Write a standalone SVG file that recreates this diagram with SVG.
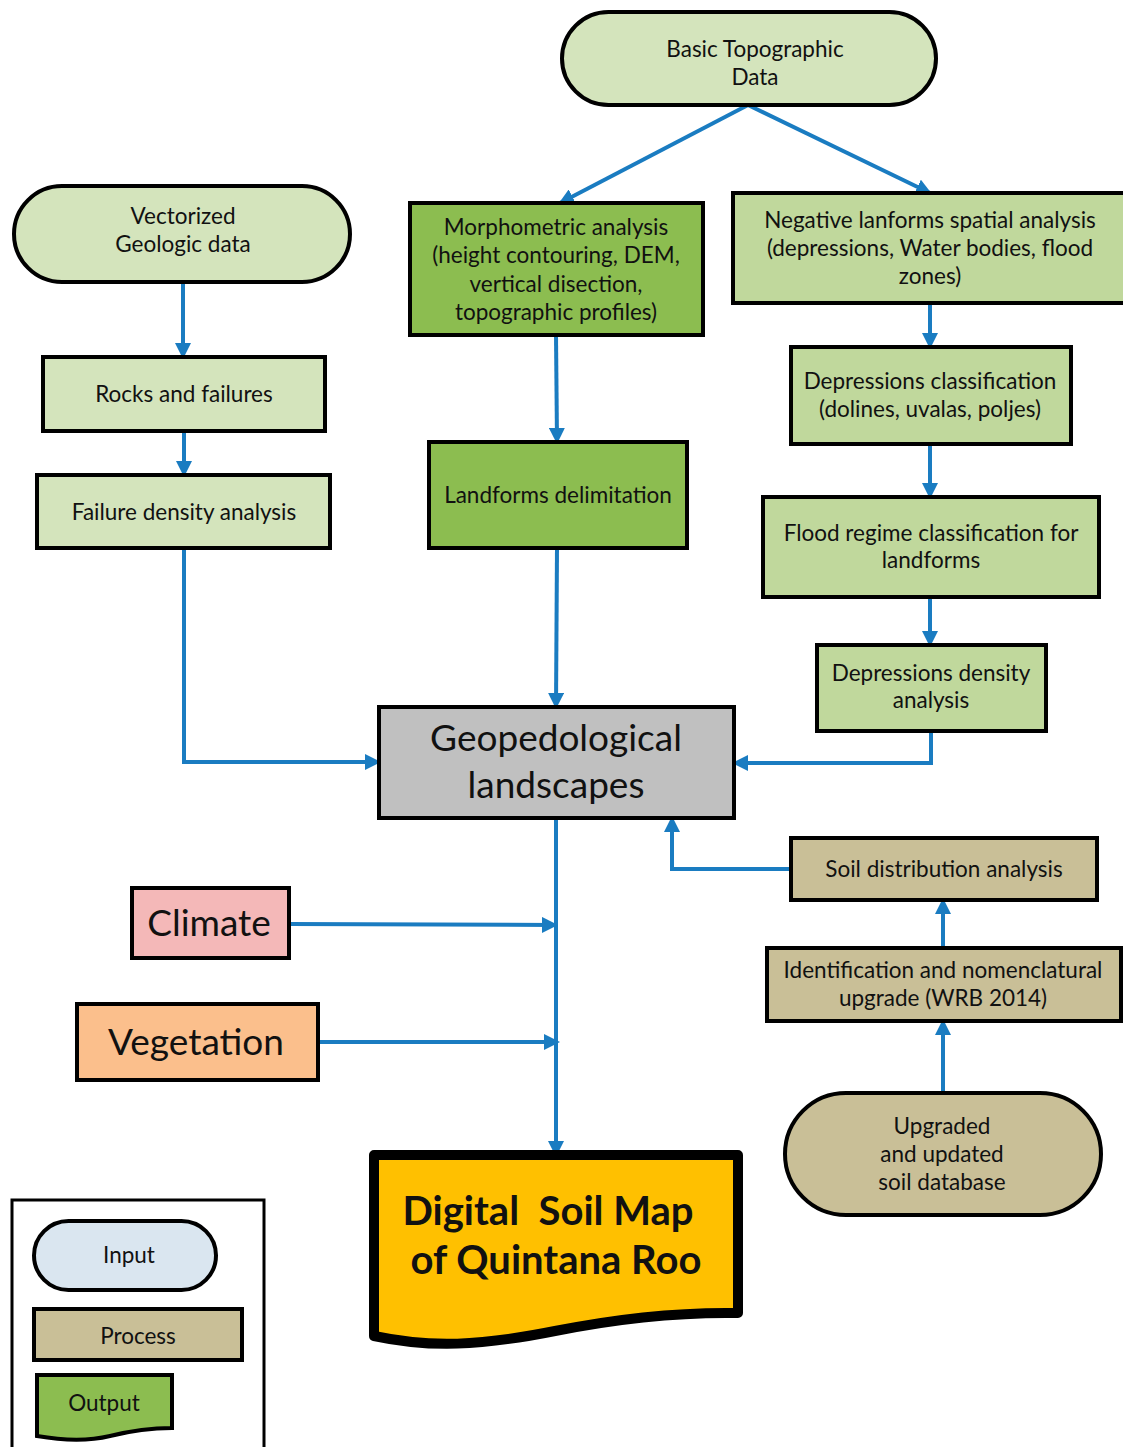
<svg xmlns="http://www.w3.org/2000/svg" width="1123" height="1447" viewBox="0 0 1123 1447">
<defs>
<marker id="ah" markerUnits="userSpaceOnUse" markerWidth="16" markerHeight="16" viewBox="0 0 16 16" refX="14" refY="8" orient="auto">
<path d="M0,0 L16,8 L0,16 Z" fill="#1a7cc1"/>
</marker>
<style>
.n{stroke:#000;stroke-width:4}
.lg{fill:#d4e4bc}
.mg{fill:#c0d89c}
.dg{fill:#8cbd50}
.tan{fill:#c9bf97}
.t{font-family:Lato,"Open Sans","Liberation Sans",sans-serif;font-size:22.5px;fill:#111;text-anchor:middle}
.big{font-size:37px}
.dsm{font-size:40px;font-weight:bold}
.c{fill:none;stroke:#1a7cc1;stroke-width:4;marker-end:url(#ah)}
</style>
</defs>
<rect width="1123" height="1447" fill="#fff"/>

<g id="connectors">
<path class="c" d="M748,105 L560,203"/>
<path class="c" d="M748,105 L930,193"/>
<path class="c" d="M183,282 L183,357"/>
<path class="c" d="M184,431 L184,475"/>
<path class="c" d="M184,548 L184,762 L379,762"/>
<path class="c" d="M556,335 L557,442"/>
<path class="c" d="M557,548 L556,707"/>
<path class="c" d="M930,303 L930,347"/>
<path class="c" d="M930,444 L930,497"/>
<path class="c" d="M930,597 L930,645"/>
<path class="c" d="M931,731 L931,763 L734,763"/>
<path class="c" d="M791,869 L672,869 L672,818"/>
<path class="c" d="M943,948 L943,900"/>
<path class="c" d="M943,1093 L943,1021"/>
<path class="c" d="M556,818 L556,1155"/>
<path class="c" d="M289,924 L556,925"/>
<path class="c" d="M318,1042 L558,1042"/>
</g>

<g id="basic-topographic">
<rect class="n lg" x="562" y="12" width="374" height="93" rx="46.5"/>
<text class="t" x="755" y="57">Basic Topographic</text>
<text class="t" x="755" y="85">Data</text>
</g>

<g id="vectorized-geologic">
<rect class="n lg" x="14" y="186" width="336" height="96" rx="48"/>
<text class="t" x="183" y="224">Vectorized</text>
<text class="t" x="183" y="252">Geologic data</text>
</g>

<g id="morphometric">
<rect class="n dg" x="410" y="203" width="293" height="132"/>
<text class="t" x="556" y="235">Morphometric analysis</text>
<text class="t" x="556" y="263">(height contouring, DEM,</text>
<text class="t" x="556" y="292">vertical disection,</text>
<text class="t" x="556" y="320">topographic profiles)</text>
</g>

<g id="negative-landforms">
<rect class="n mg" x="733" y="193" width="394" height="110"/>
<text class="t" x="930" y="228">Negative lanforms spatial analysis</text>
<text class="t" x="930" y="256">(depressions, Water bodies, flood</text>
<text class="t" x="930" y="284">zones)</text>
</g>

<g id="rocks-failures">
<rect class="n lg" x="43" y="357" width="282" height="74"/>
<text class="t" x="184" y="402">Rocks and failures</text>
</g>

<g id="failure-density">
<rect class="n lg" x="37" y="475" width="293" height="73"/>
<text class="t" x="184" y="520">Failure density analysis</text>
</g>

<g id="landforms-delimitation">
<rect class="n dg" x="429" y="442" width="258" height="106"/>
<text class="t" x="558" y="503">Landforms delimitation</text>
</g>

<g id="depressions-classification">
<rect class="n mg" x="791" y="347" width="280" height="97"/>
<text class="t" x="930" y="389">Depressions classification</text>
<text class="t" x="930" y="417">(dolines, uvalas, poljes)</text>
</g>

<g id="flood-regime">
<rect class="n mg" x="763" y="497" width="336" height="100"/>
<text class="t" x="931" y="541">Flood regime classification for</text>
<text class="t" x="931" y="568">landforms</text>
</g>

<g id="depressions-density">
<rect class="n mg" x="817" y="645" width="229" height="86"/>
<text class="t" x="931" y="681">Depressions density</text>
<text class="t" x="931" y="708">analysis</text>
</g>

<g id="geopedological">
<rect class="n" fill="#c0c0c0" x="379" y="707" width="355" height="111"/>
<text class="t big" x="556" y="751">Geopedological</text>
<text class="t big" x="556" y="798">landscapes</text>
</g>

<g id="climate">
<rect class="n" fill="#f4b8b8" x="132" y="888" width="157" height="70"/>
<text class="t big" x="209" y="936">Climate</text>
</g>

<g id="vegetation">
<rect class="n" fill="#fbbf8c" x="77" y="1004" width="241" height="76"/>
<text class="t big" x="196" y="1055">Vegetation</text>
</g>

<g id="soil-distribution">
<rect class="n tan" x="791" y="838" width="306" height="62"/>
<text class="t" x="944" y="877">Soil distribution analysis</text>
</g>

<g id="identification">
<rect class="n tan" x="767" y="948" width="354" height="73"/>
<text class="t" x="943" y="978">Identification and nomenclatural</text>
<text class="t" x="943" y="1006">upgrade (WRB 2014)</text>
</g>

<g id="upgraded-database">
<rect class="n tan" x="785" y="1093" width="316" height="122" rx="61"/>
<text class="t" x="942" y="1134">Upgraded</text>
<text class="t" x="942" y="1162">and updated</text>
<text class="t" x="942" y="1190">soil database</text>
</g>

<g id="digital-soil-map">
<path d="M374,1155 L738,1155 L738,1313 C680,1312 620,1318 555,1331 C480,1346 430,1348 374,1336 Z" fill="#ffc000" stroke="#000" stroke-width="10" stroke-linejoin="round"/>
<text class="t dsm" x="548" y="1225" xml:space="preserve">Digital  Soil Map</text>
<text class="t dsm" x="556" y="1274">of Quintana Roo</text>
</g>

<g id="legend">
<rect x="12" y="1200" width="252" height="260" fill="#fff" stroke="#000" stroke-width="3"/>
<rect class="n" fill="#dae6f0" x="34" y="1221" width="182" height="69" rx="34.5"/>
<text class="t" x="129" y="1263">Input</text>
<rect class="n tan" x="34" y="1309" width="208" height="51"/>
<text class="t" x="138" y="1344">Process</text>
<path d="M37,1375 L172,1375 L172,1428 C150,1428 130,1431 110,1436 C85,1442 60,1440 37,1436 Z" fill="#8cbd50" stroke="#000" stroke-width="4"/>
<text class="t" x="104" y="1411">Output</text>
</g>
</svg>
